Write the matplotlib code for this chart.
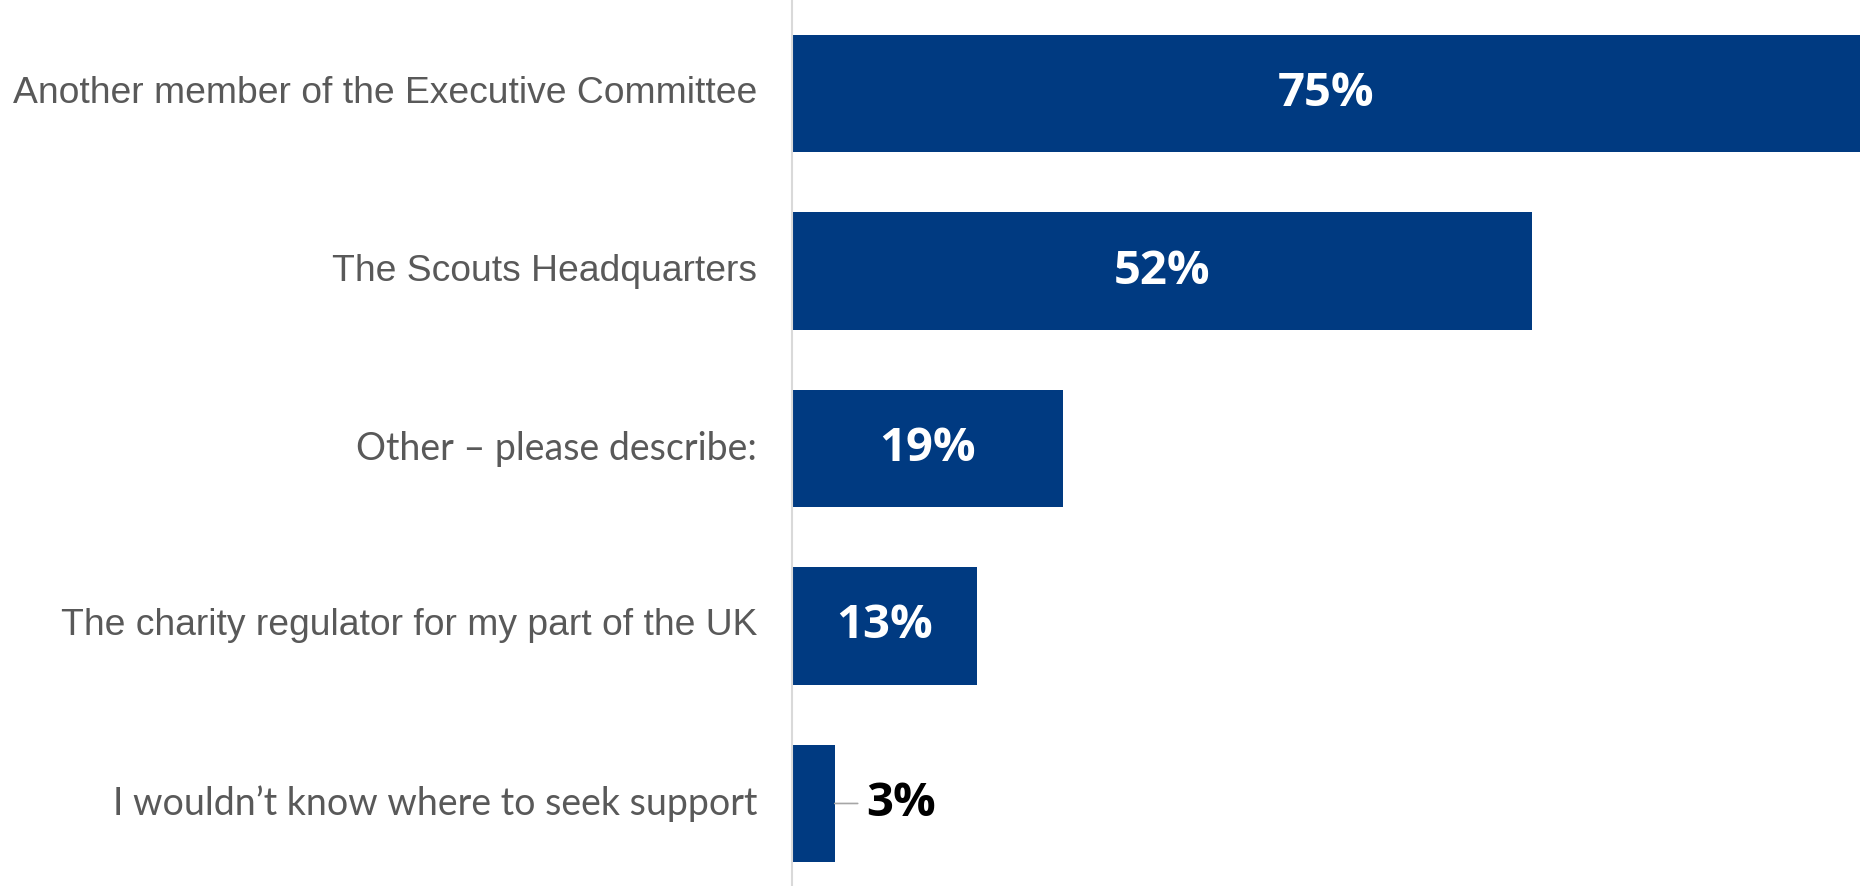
import matplotlib
matplotlib.use("Agg")
import matplotlib.pyplot as plt

categories = [
    "Another member of the Executive Committee",
    "The Scouts Headquarters",
    "Other \u2013 please describe:",
    "The charity regulator for my part of the UK",
    "I wouldn\u2019t know where to seek support",
]
shares = [75, 52, 19, 13, 3]
value_labels = ["75%", "52%", "19%", "13%", "3%"]
# rows whose labels use the Arial-like face; the rest use the rounder body face
arial_rows = [0, 1, 3]

BAR_BLUE = "#003a81"
LABEL_GREY = "#595959"

fig = plt.figure(figsize=(18.6, 8.86), dpi=100)
ax = fig.add_axes([792 / 1860, 0, 1 - 792 / 1860, 1])

y = list(range(len(categories)))
ax.barh(y, shares, height=0.66, color=BAR_BLUE)

ax.set_xlim(0, 75)
ax.set_ylim(4.465, -0.527)

for s in ["top", "right", "bottom"]:
    ax.spines[s].set_visible(False)
ax.spines["left"].set_color("#d9d9d9")
ax.spines["left"].set_linewidth(1.5)
ax.set_xticks([])
ax.set_yticks([])

# category labels to the left of the axis
for i, name in enumerate(categories):
    fam = "Liberation Sans" if i in arial_rows else "Lato"
    size = 26.8 if i in arial_rows else 27
    ax.annotate(name, xy=(0, i), xytext=(-25, 0), textcoords="offset points",
                ha="right", va="center", fontsize=size, family=fam,
                color=LABEL_GREY)

# value labels: inside the bar when it is wide enough, else outside with a leader
for i, (v, lab) in enumerate(zip(shares, value_labels)):
    if v >= 10:
        ax.text(v / 2, i, lab, ha="center", va="center", color="white",
                fontsize=34, fontweight="bold", family="Open Sans")
    else:
        ax.annotate(lab, xy=(v, i), xytext=(v + 2.2, i), textcoords="data",
                    ha="left", va="center", color="black", fontsize=34,
                    fontweight="bold", family="Open Sans",
                    arrowprops=dict(arrowstyle="-", color="#a6a6a6", lw=1.2,
                                    shrinkA=4, shrinkB=0))

fig.savefig("out.png", dpi=100)
